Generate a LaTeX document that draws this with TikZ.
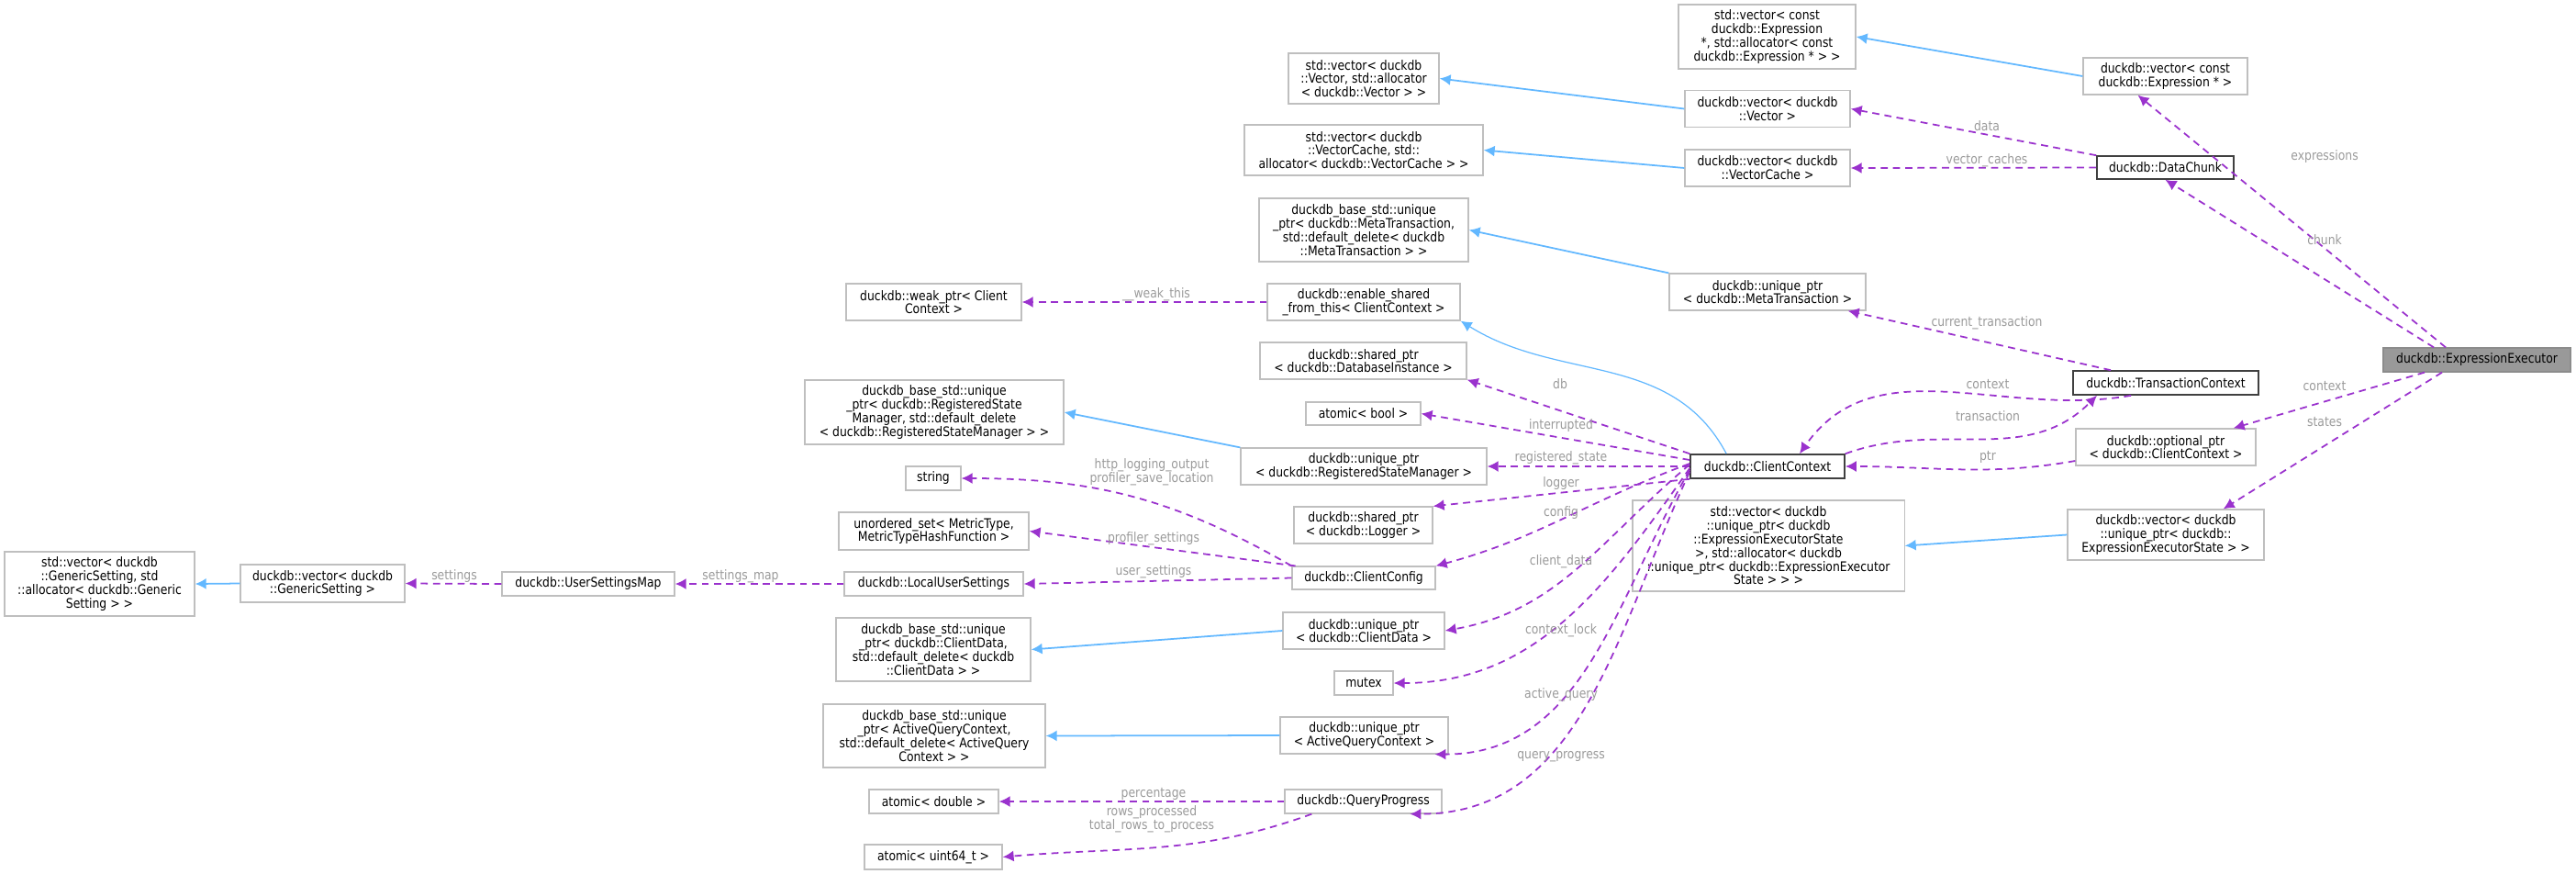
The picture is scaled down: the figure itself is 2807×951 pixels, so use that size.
\documentclass[tikz,border=0pt]{standalone}
\usepackage{fontspec}
\setmainfont{DejaVu Sans}[FakeStretch=0.86]
\usetikzlibrary{arrows.meta}

\definecolor{memclr}{HTML}{9A32CD}
\definecolor{inhclr}{HTML}{63B8FF}
\definecolor{lblclr}{HTML}{9A9A9A}

\begin{document}
\begin{tikzpicture}[
    x=0.01cm, y=-0.01cm,
    font=\fontsize{4.1}{4.2}\selectfont,
    cls/.style = {draw=gray!50, line width=0.35pt, inner sep=0pt, align=center},
    main/.style = {cls, draw=black!75, line width=0.45pt},
    mem/.style = {draw=memclr, dashed, dash pattern=on 2.2pt off 1.6pt, line width=0.5pt, -{Latex[length=3.4pt,width=3.4pt]}},
    inh/.style = {draw=inhclr, line width=0.5pt, -{Latex[length=3.4pt,width=3.4pt]}},
    lbl/.style = {text=lblclr, align=center, inner sep=0pt}
    ]
    \useasboundingbox (0,0) rectangle (2807,951);

    % right part
    \node[cls, fill=gray!80, draw=gray!90, minimum width=2.04cm, minimum height=0.26cm] (exec) at (2699,392) {duckdb::ExpressionExecutor};
    \node[cls, minimum width=1.93cm, minimum height=0.70cm] (std vec expr) at (1925.5,40) {std::vector< const\\duckdb::Expression\\*, std::allocator< const\\duckdb::Expression * > >};
    \node[cls, minimum width=1.79cm, minimum height=0.40cm] (vec expr) at (2359.5,83) {duckdb::vector< const\\duckdb::Expression * >};
    \node[cls, minimum width=1.64cm, minimum height=0.55cm] (std vec vector) at (1486,85.5) {std::vector< duckdb\\::Vector, std::allocator\\< duckdb::Vector > >};
    \node[cls, minimum width=1.80cm, minimum height=0.40cm] (vec vector) at (1926,118.5) {duckdb::vector< duckdb\\::Vector >};
    \node[cls, minimum width=2.60cm, minimum height=0.55cm] (std vec cache) at (1486,163.5) {std::vector< duckdb\\::VectorCache, std::\\allocator< duckdb::VectorCache > >};
    \node[cls, minimum width=1.80cm, minimum height=0.40cm] (vec cache) at (1926,183) {duckdb::vector< duckdb\\::VectorCache >};
    \node[main, minimum width=1.49cm, minimum height=0.25cm] (chunk) at (2359.5,182.5) {duckdb::DataChunk};
    \node[cls, minimum width=2.28cm, minimum height=0.69cm] (base meta tx) at (1486,250.5) {duckdb\_base\_std::unique\\\_ptr< duckdb::MetaTransaction,\\std::default\_delete< duckdb\\::MetaTransaction > >};
    \node[cls, minimum width=2.10cm, minimum height=0.40cm] (enable shared) at (1486,329) {duckdb::enable\_shared\\\_from\_this< ClientContext >};
    \node[cls, minimum width=2.14cm, minimum height=0.40cm] (uniq meta tx) at (1926,318) {duckdb::unique\_ptr\\< duckdb::MetaTransaction >};
    \node[cls, minimum width=1.91cm, minimum height=0.40cm] (weak ptr) at (1017.5,329) {duckdb::weak\_ptr< Client\\Context >};
    \node[cls, minimum width=2.25cm, minimum height=0.40cm] (shared db) at (1485.5,393) {duckdb::shared\_ptr\\< duckdb::DatabaseInstance >};
    \node[cls, minimum width=1.25cm, minimum height=0.25cm] (atomic bool) at (1485.5,450.5) {atomic< bool >};
    \node[cls, minimum width=2.82cm, minimum height=0.70cm] (base reg state) at (1018,449) {duckdb\_base\_std::unique\\\_ptr< duckdb::RegisteredState\\Manager, std::default\_delete\\< duckdb::RegisteredStateManager > >};
    \node[main, minimum width=2.02cm, minimum height=0.26cm] (tx ctx) at (2360,417) {duckdb::TransactionContext};
    \node[cls, minimum width=1.96cm, minimum height=0.40cm] (opt ptr) at (2360,487) {duckdb::optional\_ptr\\< duckdb::ClientContext >};
    \node[cls, minimum width=2.68cm, minimum height=0.40cm] (uniq reg state) at (1486,508) {duckdb::unique\_ptr\\< duckdb::RegisteredStateManager >};
    \node[main, minimum width=1.68cm, minimum height=0.26cm] (client ctx) at (1926,508) {duckdb::ClientContext};
    \node[cls, minimum width=0.60cm, minimum height=0.26cm] (string) at (1017,521) {string};
    \node[cls, minimum width=1.51cm, minimum height=0.40cm] (shared logger) at (1485.5,572) {duckdb::shared\_ptr\\< duckdb::Logger >};
    \node[cls, minimum width=2.96cm, minimum height=0.99cm] (std vec state) at (1927,594.5) {std::vector< duckdb\\::unique\_ptr< duckdb\\::ExpressionExecutorState\\>, std::allocator< duckdb\\::unique\_ptr< duckdb::ExpressionExecutor\\State > > >};
    \node[cls, minimum width=2.14cm, minimum height=0.55cm] (vec state) at (2360,582.5) {duckdb::vector< duckdb\\::unique\_ptr< duckdb::\\ExpressionExecutorState > >};
    \node[cls, minimum width=2.07cm, minimum height=0.41cm] (metric set) at (1017.5,578.5) {unordered\_set< MetricType,\\MetricTypeHashFunction >};
    \node[cls, minimum width=1.95cm, minimum height=0.26cm] (local settings) at (1017.5,636) {duckdb::LocalUserSettings};
    \node[cls, minimum width=1.56cm, minimum height=0.25cm] (config) at (1486,629.5) {duckdb::ClientConfig};
    \node[cls, minimum width=1.88cm, minimum height=0.26cm] (settings map) at (641,636) {duckdb::UserSettingsMap};
    \node[cls, minimum width=1.79cm, minimum height=0.41cm] (vec generic) at (351.5,635.5) {duckdb::vector< duckdb\\::GenericSetting >};
    \node[cls, minimum width=2.07cm, minimum height=0.70cm] (std vec generic) at (108.5,636) {std::vector< duckdb\\::GenericSetting, std\\::allocator< duckdb::Generic\\Setting > >};
    \node[cls, minimum width=2.12cm, minimum height=0.69cm] (base client data) at (1017,707.5) {duckdb\_base\_std::unique\\\_ptr< duckdb::ClientData,\\std::default\_delete< duckdb\\::ClientData > >};
    \node[cls, minimum width=1.76cm, minimum height=0.40cm] (uniq client data) at (1486,687) {duckdb::unique\_ptr\\< duckdb::ClientData >};
    \node[cls, minimum width=0.64cm, minimum height=0.26cm] (mutex) at (1486,744) {mutex};
    \node[cls, minimum width=2.42cm, minimum height=0.69cm] (base query) at (1018,801.5) {duckdb\_base\_std::unique\\\_ptr< ActiveQueryContext,\\std::default\_delete< ActiveQuery\\Context > >};
    \node[cls, minimum width=1.83cm, minimum height=0.40cm] (uniq query) at (1486.5,801) {duckdb::unique\_ptr\\< ActiveQueryContext >};
    \node[cls, minimum width=1.41cm, minimum height=0.26cm] (atomic double) at (1017.5,873) {atomic< double >};
    \node[cls, minimum width=1.71cm, minimum height=0.26cm] (progress) at (1485.5,873) {duckdb::QueryProgress};
    \node[cls, minimum width=1.50cm, minimum height=0.27cm] (atomic uint) at (1017,933.5) {atomic< uint64\_t >};

    % Inheritance
    \draw[inh] (vec expr.west) -- (std vec expr.east);
    \draw[inh] (vec vector.west) -- (std vec vector.east);
    \draw[inh] (vec cache.west) -- (std vec cache.east);
    \draw[inh] (uniq meta tx.north west) -- (base meta tx.east);
    \draw[inh, line width=0.35pt] (client ctx.north west) ++(40,0) coordinate (cc top) (cc top) to[out=118,in=-32] (enable shared.south east);
    \draw[inh] (uniq reg state.north west) -- (base reg state.east);
    \draw[inh] (uniq client data.west) -- (base client data.east);
    \draw[inh] (uniq query.west) -- (base query.east);
    \draw[inh] (vec generic.west) -- (std vec generic.east);
    \draw[inh] (vec state.west) -- (std vec state.east);

    % Members of ExpressionExecutor
    \draw[mem] (exec.north) ++(-34,0) coordinate (ex a) (ex a) -- ([xshift=-0.3cm]vec expr.south);
    \draw[mem] (exec.north) ++(-47,0) coordinate (ex b) (ex b) -- (chunk.south);
    \draw[mem] (exec.south) ++(-57,0) coordinate (ex c) (ex c) -- ([xshift=-0.25cm]opt ptr.north east);
    \draw[mem] (exec.south) ++(-38,0) coordinate (ex d) (ex d) -- ([xshift=-0.45cm]vec state.north east);
    \draw[mem] (chunk.north west) -- (vec vector.east);
    \draw[mem] (chunk.west) -- (vec cache.east);
    \draw[mem] (tx ctx.north) ++(-60,0) coordinate (tx a) (tx a) -- ([xshift=-0.2cm]uniq meta tx.south east);
    \draw[mem] (tx ctx.200) to[out=190,in=55] ([xshift=0.35cm]client ctx.north);
    \draw[mem] (client ctx.north east) to[out=20,in=225] ([xshift=-0.75cm]tx ctx.south);
    \draw[mem] (opt ptr.west) ++(0,15) coordinate (op a) (op a) to[out=190,in=0] (client ctx.east);

    % Members of ClientContext
    \draw[mem] (client ctx.north west) -- (shared db.south east);
    \draw[mem] (client ctx.west) ++(0,-7) coordinate (cc w1) (cc w1) -- (atomic bool.east);
    \draw[mem] (client ctx.west) -- (uniq reg state.east);
    \draw[mem] (client ctx.south west) -- (shared logger.north east);
    \draw[mem] (client ctx.west) ++(0,-3) coordinate (cc w2) (cc w2) to[out=200,in=15] (config.north east);
    \draw[mem] (client ctx.west) ++(0,-2) coordinate (cc w3) (cc w3) to[out=220,in=10] (uniq client data.east);
    \draw[mem] (client ctx.west) ++(0,2) coordinate (cc w4) (cc w4) to[out=235,in=0] (mutex.east);
    \draw[mem] (client ctx.west) ++(0,4) coordinate (cc w5) (cc w5) to[out=240,in=0] (uniq query.345);
    \draw[mem] (client ctx.west) ++(0,6) coordinate (cc w6) (cc w6) to[out=245,in=0] (progress.345);
    \draw[mem] (enable shared.west) -- (weak ptr.east);

    % Members of ClientConfig and others
    \draw[mem] (config.north west) to[out=150,in=0] (string.east);
    \draw[mem] (config.170) -- (metric set.east);
    \draw[mem] (config.west) -- (local settings.east);
    \draw[mem] (local settings.west) -- (settings map.east);
    \draw[mem] (settings map.west) -- (vec generic.east);
    \draw[mem] (progress.west) -- (atomic double.east);
    \draw[mem] (progress.south west) ++(30,0) coordinate (qp a) (qp a) to[out=200,in=5] (atomic uint.east);

    % Labels
    \node[lbl] (l expressions) at (2533,171) {expressions};
    \node[lbl] (l chunk) at (2533,261) {chunk};
    \node[lbl] (l data) at (2165,137) {data};
    \node[lbl] (l caches) at (2165,175) {vector\_caches};
    \node[lbl] (l current) at (2165,352) {current\_transaction};
    \node[lbl] (l context) at (2166,419) {context};
    \node[lbl] (l transaction) at (2166,453) {transaction};
    \node[lbl] (l ptr) at (2166,498) {ptr};
    \node[lbl] (l exec context) at (2533,421) {context};
    \node[lbl] (l states) at (2533,460) {states};
    \node[lbl] (l weak) at (1260,321) {\_\_weak\_this};
    \node[lbl] (l db) at (1700,418) {db};
    \node[lbl] (l interrupted) at (1701,464) {interrupted};
    \node[lbl] (l registered) at (1701,499) {registered\_state};
    \node[lbl] (l logger) at (1701,527) {logger};
    \node[lbl] (l config) at (1701,559) {config};
    \node[lbl] (l client data) at (1701,612) {client\_data};
    \node[lbl] (l lock) at (1701,687) {context\_lock};
    \node[lbl] (l active) at (1701,757) {active\_query};
    \node[lbl] (l progress) at (1701,824) {query\_progress};
    \node[lbl] (l logging) at (1255,514) {http\_logging\_output\\profiler\_save\_location};
    \node[lbl] (l profiler) at (1257,587) {profiler\_settings};
    \node[lbl] (l user) at (1257,623) {user\_settings};
    \node[lbl] (l percentage) at (1257,865) {percentage};
    \node[lbl] (l rows) at (1255,892) {rows\_processed\\total\_rows\_to\_process};
    \node[lbl] (l settings) at (495,628) {settings};
    \node[lbl] (l settings map) at (807,628) {settings\_map};
\end{tikzpicture}
\end{document}
